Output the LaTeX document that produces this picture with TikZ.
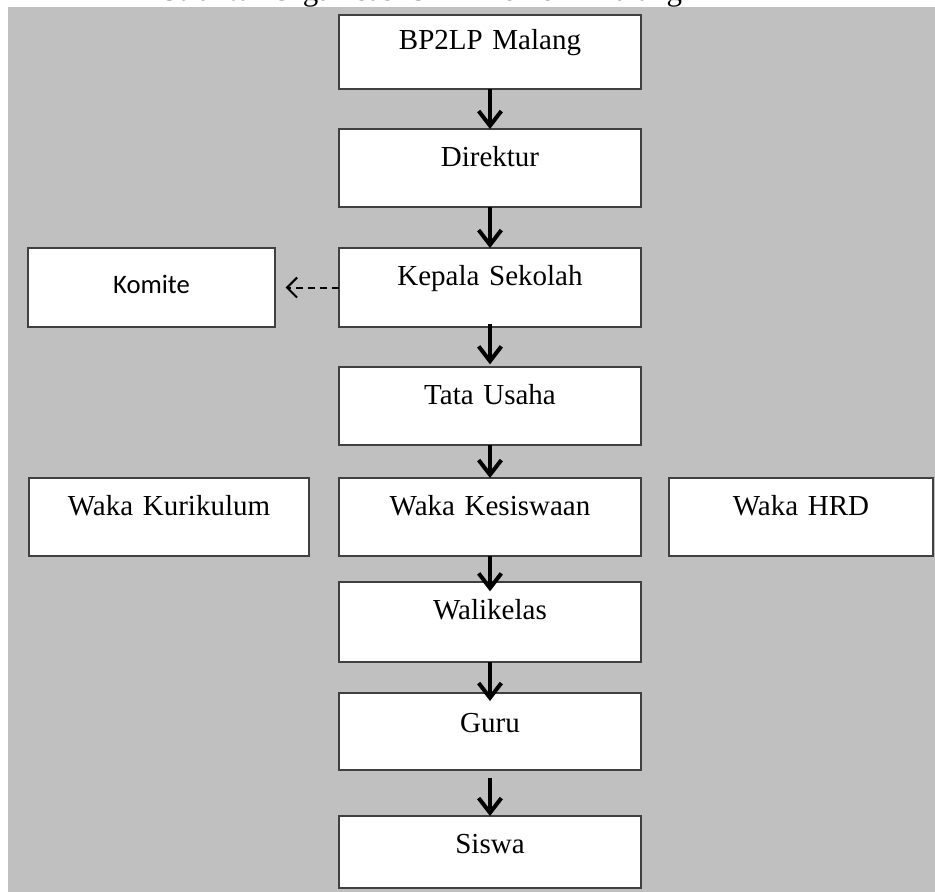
\documentclass[tikz,border=0pt]{standalone}
\usepackage{fontspec}
\setmainfont{Liberation Serif}
\newfontfamily\komfont{Carlito}
\usetikzlibrary{arrows.meta}
\definecolor{bggray}{RGB}{192,192,192}
\definecolor{edgegray}{RGB}{64,64,64}
\tikzset{
  orgbox/.style={draw=edgegray, line width=1.2pt, fill=white, inner sep=0pt, outer sep=0pt,
    font=\fontsize{21.75pt}{24pt}\selectfont, align=center},
  flow/.style={line width=3pt, -{Straight Barb[length=11pt,width=17pt,line width=3pt]}},
  dashflow/.style={line width=1.5pt, dash pattern=on 5pt off 4pt,
    -{Straight Barb[length=7.5pt,width=15pt,line width=1.5pt]}},
}
\newcommand\mkbox[8]{% name, x1, y1, x2, y2, baseline offset(px), extra style, text
  \pgfmathsetmacro\orgW{(#4-#2)*0.75}%
  \pgfmathsetmacro\orgH{#6*0.75}%
  \pgfmathsetmacro\orgD{(#5-#3-#6)*0.75}%
  \node[orgbox, #7, minimum width=\orgW pt, text width=\orgW pt, text height=\orgH pt, text depth=\orgD pt,
    anchor=north west] (#1) at (#2,#3) {#8};}
\begin{document}
\begin{tikzpicture}[x=0.75pt,y=-0.75pt]
\useasboundingbox (0,0) rectangle (935,892);
\fill[bggray] (8,7) rectangle (935,892);
\node[anchor=base west, inner sep=0pt, font=\fontsize{23.25pt}{26pt}\selectfont] (title) at (161,1) {Struktur Organisasi SMK Telkom Malang};
\mkbox{bp}{339}{15}{641}{89}{35}{}{BP2LP Malang}
\mkbox{dir}{339}{129}{641}{207}{37}{}{Direktur}
\mkbox{kep}{339}{248}{641}{327}{37}{}{Kepala Sekolah}
\mkbox{kom}{28}{248}{275}{327}{45}{font=\komfont\fontsize{20pt}{24pt}\selectfont}{Komite}
\mkbox{tata}{339}{367}{641}{445}{37}{}{Tata Usaha}
\mkbox{wkur}{29}{478}{309}{556}{37}{}{Waka Kurikulum}
\mkbox{wkes}{339}{478}{641}{556}{37}{}{Waka Kesiswaan}
\mkbox{whrd}{669}{478}{933}{556}{37}{}{Waka HRD}
\mkbox{wali}{339}{582}{641}{662}{37}{}{Walikelas}
\mkbox{guru}{339}{693}{641}{770}{39}{}{Guru}
\mkbox{siswa}{339}{816}{641}{888}{37}{}{Siswa}
\draw[flow] (bp.south) -- (dir.north);
\draw[flow] (dir.south) -- (kep.north);
\draw[flow, shorten <=-2pt, shorten >=2pt] (kep.south) -- (tata.north);
\draw[flow] (tata.south) -- (wkes.north);
\draw[flow, shorten >=-7pt] (wkes.south) -- (wali.north);
\draw[flow, shorten >=-6pt] (wali.south) -- (guru.north);
\draw[flow, shorten <=6pt] (guru.south) -- (siswa.north);
\draw[dashflow, shorten >=8pt] (kep.west) -- (kom.east);
\end{tikzpicture}
\end{document}
